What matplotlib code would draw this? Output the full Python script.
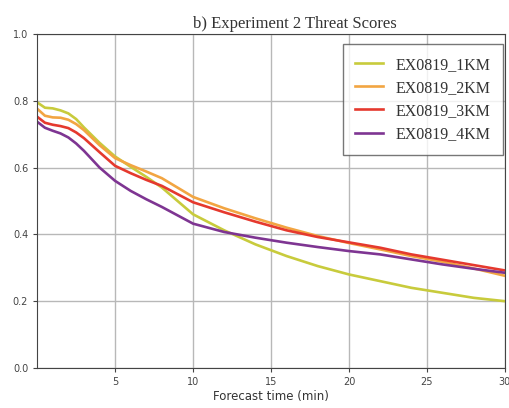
import numpy as np
from matplotlib import pyplot as plt

# forecast time (min) where values were read
t = [0, 0.5, 1, 1.5, 2, 2.5, 3, 4, 5, 6, 7, 8, 10, 12, 14, 16, 18, 20, 22, 24, 26, 28, 30]

ts_1km = [0.795, 0.779, 0.777, 0.771, 0.762, 0.745, 0.72, 0.674, 0.633, 0.602, 0.572, 0.54,
          0.46, 0.412, 0.37, 0.335, 0.305, 0.28, 0.26, 0.24, 0.225, 0.21, 0.20]
ts_2km = [0.776, 0.755, 0.75, 0.749, 0.743, 0.73, 0.712, 0.667, 0.628, 0.607, 0.588, 0.568,
          0.512, 0.478, 0.448, 0.42, 0.395, 0.374, 0.355, 0.335, 0.318, 0.298, 0.276]
ts_3km = [0.752, 0.734, 0.728, 0.724, 0.718, 0.705, 0.688, 0.646, 0.605, 0.583, 0.563, 0.545,
          0.496, 0.466, 0.438, 0.412, 0.392, 0.376, 0.36, 0.34, 0.324, 0.308, 0.292]
ts_4km = [0.737, 0.719, 0.71, 0.702, 0.69, 0.672, 0.65, 0.6, 0.56, 0.53, 0.505, 0.482,
          0.432, 0.407, 0.39, 0.375, 0.362, 0.35, 0.34, 0.325, 0.31, 0.297, 0.285]

labels = ['EX0819_1KM', 'EX0819_2KM', 'EX0819_3KM', 'EX0819_4KM']
colors = ['#c8cb3c', '#f2a542', '#e5392e', '#7e3592']

fig = plt.figure(figsize=(5.09, 4.08), dpi=100)
ax = fig.add_axes([0.073, 0.098, 0.919, 0.819])

for y, lab, c in zip([ts_1km, ts_2km, ts_3km, ts_4km], labels, colors):
    ax.plot(t, y, color=c, lw=1.9, label=lab, solid_joinstyle='round')

ax.set_xlim(0, 30)
ax.set_ylim(0, 1.0)
ax.set_xticks([5, 10, 15, 20, 25, 30])
ax.set_yticks([0.0, 0.2, 0.4, 0.6, 0.8, 1.0])
ax.grid(True, color='#b8b8b8', lw=1.0)
ax.tick_params(labelsize=7, colors='#444444', length=3)
for s in ax.spines.values():
    s.set_color('#444444')

ax.set_xlabel('Forecast time (min)', fontsize=8.5, color='#333333', labelpad=2)
ax.set_title('b) Experiment 2 Threat Scores', family='Liberation Serif',
             fontsize=12, x=0.55, pad=4, color='#333333')

leg = ax.legend(loc='upper right', bbox_to_anchor=(0.996, 0.97),
                prop={'family': 'Liberation Serif', 'size': 11.5},
                fancybox=False, edgecolor='#555555', handlelength=1.7,
                borderaxespad=0.0, borderpad=0.8, labelspacing=0.45)
for txt in leg.get_texts():
    txt.set_color('#333333')

plt.savefig('out.png', dpi=100)
